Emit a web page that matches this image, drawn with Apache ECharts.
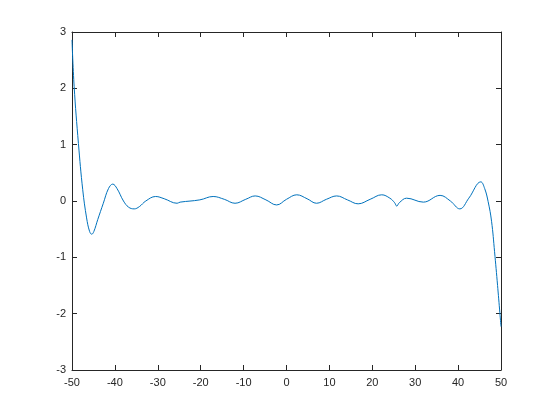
<!DOCTYPE html>
<html>
<head>
<meta charset="utf-8">
<script src="https://cdn.jsdelivr.net/npm/echarts@6/dist/echarts.min.js"></script>
<style>
html,body{margin:0;padding:0;background:#fff;}
#chart{width:554px;height:415px;}
</style>
</head>
<body>
<div id="chart"></div>
<script>
var xValues = [-50, -49.5, -48.5, -47.5, -46.6, -45.9, -45.4, -44.9, -44.0, -42.7, -41.5, -40.5, -39.5, -38.0, -36.8, -35.5, -34.3, -32.8, -30.5, -28.5, -25.5, -24.8, -20.2, -17.1, -14.5, -12.0, -9.5, -7.3, -4.8, -2.3, 0, 2.4, 4.8, 7.0, 9.3, 11.7, 14.2, 16.7, 19.5, 22.2, 24.1, 25.2, 25.7, 26.3, 28.0, 31.9, 35.8, 38.2, 40.4, 42.5, 45.3, 46.2, 47.0, 47.8, 48.5, 49.2, 50];
var yValues = [2.86, 2.03, 1.02, 0.2, -0.3, -0.54, -0.59, -0.54, -0.33, -0.04, 0.22, 0.30, 0.22, 0.0, -0.11, -0.14, -0.10, 0.0, 0.08, 0.04, -0.04, -0.02, 0.02, 0.08, 0.03, -0.04, 0.03, 0.09, 0.02, -0.07, 0.03, 0.11, 0.04, -0.04, 0.03, 0.09, 0.02, -0.05, 0.03, 0.11, 0.05, -0.03, -0.09, -0.03, 0.05, -0.02, 0.10, 0.0, -0.14, 0.05, 0.34, 0.22, -0.01, -0.36, -0.9, -1.5, -2.23];
var xTicks = [-50, -40, -30, -20, -10, 0, 10, 20, 30, 40, 50];
var yTicks = [-3, -2, -1, 0, 1, 2, 3];

var data = xValues.map(function (x, i) { return [x, yValues[i]]; });
var axisColor = '#262626';
var lineStyle = { color: axisColor, width: 1 };
function xAxis(pos, show) {
  return {
    type: 'value', position: pos, min: xTicks[0], max: xTicks[xTicks.length - 1], interval: 10,
    axisLine: { show: true, onZero: false, lineStyle: lineStyle },
    axisTick: { show: true, inside: true, length: 5, lineStyle: lineStyle },
    axisLabel: { show: show, color: axisColor, fontSize: 11, fontFamily: 'Arial, Liberation Sans, sans-serif', margin: 7 },
    splitLine: { show: false }
  };
}
function yAxis(pos, show) {
  return {
    type: 'value', position: pos, min: yTicks[0], max: yTicks[yTicks.length - 1], interval: 1,
    axisLine: { show: true, onZero: false, lineStyle: lineStyle },
    axisTick: { show: true, inside: true, length: 5, lineStyle: lineStyle },
    axisLabel: { show: show, color: axisColor, fontSize: 11, fontFamily: 'Arial, Liberation Sans, sans-serif', margin: 6 },
    splitLine: { show: false }
  };
}
var chart = echarts.init(document.getElementById('chart'), null, { renderer: 'canvas' });
chart.setOption({
  animation: false,
  backgroundColor: '#fff',
  grid: { left: 72, right: 53, top: 32, bottom: 45, containLabel: false },
  xAxis: [xAxis('bottom', true), xAxis('top', false)],
  yAxis: [yAxis('left', true), yAxis('right', false)],
  series: [{
    type: 'line', data: data, smooth: 0.4, showSymbol: false, symbol: 'none',
    xAxisIndex: 0, yAxisIndex: 0,
    lineStyle: { color: '#0072BD', width: 1 }
  }]
});
</script>
</body>
</html>
